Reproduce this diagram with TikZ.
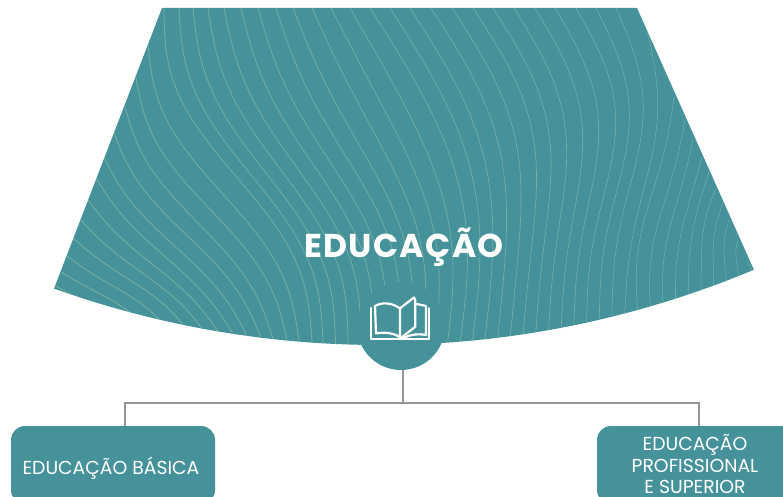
\documentclass[tikz,border=0pt]{standalone}
\usepackage{fontspec}
\setmainfont{Poppins}
\newfontfamily\titlefont[LetterSpace=4]{Poppins}
\definecolor{teal}{HTML}{45929A}
\definecolor{waveL}{HTML}{74AC9E}
\definecolor{waveR}{HTML}{74B0B0}
\definecolor{conn}{HTML}{96959A}
\tikzset{
  tealbox/.style={draw=none,fill=teal,rounded corners=14pt,minimum width=204pt,minimum height=78pt,inner sep=0pt},
  boxtext/.style={text=white,font=\fontsize{18.8}{21.5}\selectfont,align=center,inner sep=0pt},
  connline/.style={draw=conn,line width=1.5pt},
  bookline/.style={draw=white,line width=2.2pt,line join=round,line cap=round},
}
\def\SxL{{55,61,67,73,81,88,96,104,114,125,136,148,164,179,193,208,224,241,258,276,293,312,331,350,370,390,410,431,452,473,493,514,535,555,576,596,616,647,674,685,693,702,709,716,723,729,738,748}}
\def\SyL{{286,272,256,238,220,200,178,157,133,107,78,43,8,8,8,8,8,8,8,8,8,8,8,8,8,8,8,8,8,8,8,8,8,8,8,8,8,30,97,120,140,157,172,188,203,220,240,257}}
\def\ExL{{72,130,160,183,202,218,233,247,261,273,287,299,312,323,335.5,348,360.4,372.8,385.3,397.8,410.2,422.7,435.2,447.6,460.1,472.5,485,497.7,510.4,523.1,535.8,548.5,561.2,573.9,586.6,599.3,612,624.7,637.4,650.1,662.8,675.5,688.2,700.9,713.6,726.3,739,751.7}}
\begin{document}
\begin{tikzpicture}[x=1pt,y=-1pt]
\useasboundingbox (0,0) rectangle (783,497);
\clip (0,0) rectangle (783,497);
\def\fanpath{(162,8) -- (637,8) -- (754,270) -- plot[domain=754:54,samples=80] (\x,{-623+968*sqrt(1-((\x-379.6)/968)^2)}) -- cycle}
\fill[teal] \fanpath;
\begin{scope}
\clip \fanpath;
\foreach \ka/\kb/\aa/\ab/\ba/\bb in {
 1/4/0/4/0/-4,
 4/7/4/-0.2/-4/-6.4,
 7/10/-0.2/-0.9/-6.4/-12.6,
 10/13/-0.9/-2.8/-12.6/-21.7,
 13/20/-2.8/21.3/-21.7/-12.7,
 20/25/21.3/41/-12.7/-0.9,
 25/30/41/38.4/-0.9/6.7,
 30/35/38.4/29.5/6.7/12,
 35/37/29.5/22/12/11,
 37/38/22/12.4/11/7.5,
 38/39/12.4/-6.7/7.5/4.4,
 39/44/-6.7/-6.1/4.4/-1,
 44/49/-6.1/0/-1/0}{
  \pgfmathtruncatemacro\kc{\kb-1}
  \foreach \k in {\ka,...,\kc}{
    \pgfmathsetmacro\f{(\k-\ka)/(\kb-\ka)}
    \pgfmathsetmacro\sx{\SxL[\k-1]}
    \pgfmathsetmacro\sy{\SyL[\k-1]}
    \pgfmathsetmacro\ex{\ExL[\k-1]}
    \pgfmathsetmacro\ey{-623+968*sqrt(1-((\ex-379.6)/968)^2)}
    \pgfmathsetmacro\ampa{\aa+\f*(\ab-\aa)}
    \pgfmathsetmacro\ampb{\ba+\f*(\bb-\ba)}
    \pgfmathsetmacro\lw{1.0-0.55*\k/48}
    \pgfmathtruncatemacro\mixp{100-100*\k/48}
    \draw[line width=\lw pt,color=waveL!\mixp!waveR] plot[smooth,variable=\t,domain=0:1,samples=16] ({\sx+\t*(\ex-\sx)+\ampa*sin(180*\t)+\ampb*sin(360*\t)},{\sy+\t*(\ey-\sy)});
  }
}
\end{scope}
\node[circle,fill=teal,minimum size=88pt,inner sep=0pt] (hub) at (401,326) {};
% book icon
\draw[bookline] (370.7,308) -- (370.7,339.3) -- (429.3,339.3) -- (429.3,308.3);
\draw[bookline] (400,308.3) .. controls (392,303) and (383,301.5) .. (375,306) -- (376,333.3) .. controls (385,332) and (394,333) .. (400,337.3) -- cycle;
\draw[bookline] (400,308.3) -- (414,297.5) -- (415.3,300) -- (415.3,326.7) -- (401.7,337.3);
\draw[bookline] (416.7,304) -- (426,306) -- (426,335) .. controls (418,333.5) and (410,334.5) .. (403,338);
\node[text=white,font=\titlefont\bfseries\fontsize{33}{33}\selectfont,inner sep=0pt] (title) at (404,247) {EDUCAÇÃO};
\node[tealbox] (basica) at (113,465) {};
\node[tealbox] (superior) at (699,465) {};
\node[boxtext] (basicatext) at (111,468) {EDUCAÇÃO BÁSICA};
\node[boxtext] (superiortext) at (695,464.5) {EDUCAÇÃO\\PROFISSIONAL\\E SUPERIOR};
\coordinate (junction) at (403,403);
\coordinate (leftdrop) at (125,403);
\draw[connline] (hub.south -| junction) -- (junction);
\draw[connline] (leftdrop |- basica.north) -- (leftdrop) -- (superior.north |- leftdrop) -- (superior.north);
\end{tikzpicture}
\end{document}
